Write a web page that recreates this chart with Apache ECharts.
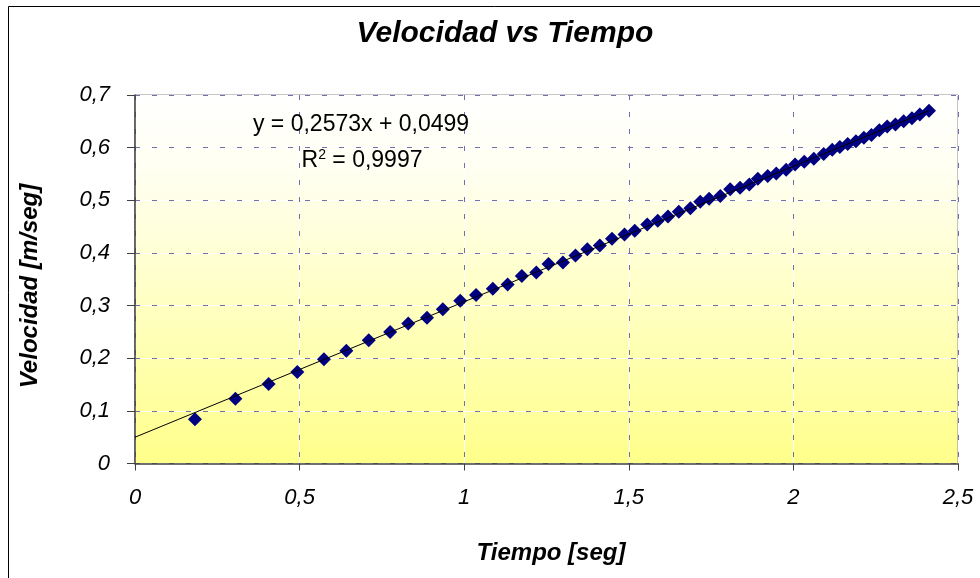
<!DOCTYPE html>
<html>
<head>
<meta charset="utf-8">
<script src="https://cdn.jsdelivr.net/npm/echarts@6/dist/echarts.min.js"></script>
<style>html,body{margin:0;padding:0;background:#fff;}#c{width:980px;height:578px;}</style>
</head>
<body>
<div id="c"></div>
<script>
const timeData = [0.182,0.305,0.406,0.493,0.574,0.642,0.710,0.775,0.830,0.887,0.935,0.988,1.036,1.087,1.132,1.175,1.219,1.256,1.300,1.338,1.374,1.412,1.449,1.487,1.518,1.556,1.588,1.619,1.652,1.687,1.717,1.744,1.778,1.808,1.838,1.866,1.892,1.922,1.948,1.978,2.005,2.033,2.062,2.092,2.118,2.141,2.165,2.190,2.214,2.237,2.261,2.285,2.310,2.335,2.360,2.384,2.412];
const velData  = [0.084,0.123,0.151,0.174,0.198,0.214,0.234,0.250,0.266,0.277,0.293,0.309,0.320,0.332,0.340,0.356,0.363,0.379,0.382,0.395,0.407,0.414,0.427,0.435,0.442,0.454,0.461,0.469,0.478,0.485,0.497,0.503,0.508,0.521,0.524,0.530,0.541,0.546,0.551,0.558,0.568,0.573,0.579,0.588,0.596,0.601,0.607,0.612,0.619,0.624,0.633,0.640,0.644,0.650,0.656,0.663,0.670];
const trendCoef = [0.2573, 0.0499];
const xTicks = [0, 0.5, 1, 1.5, 2, 2.5];
const yTicks = [0, 0.1, 0.2, 0.3, 0.4, 0.5, 0.6, 0.7];
const titleText = 'Velocidad vs Tiempo';
const xTitle = 'Tiempo [seg]';
const yTitle = 'Velocidad [m/seg]';

const FONT = "'Liberation Sans', Arial, sans-serif";
const fmt = v => String(v).replace('.', ',');
const points = timeData.map((t, i) => [t, velData[i]]);
const xEnd = timeData[timeData.length - 1];
const trend = [[0, trendCoef[1]], [xEnd, trendCoef[0] * xEnd + trendCoef[1]]];

const chart = echarts.init(document.getElementById('c'), null, {renderer: 'canvas'});
chart.setOption({
  animation: false,
  backgroundColor: '#ffffff',
  grid: {
    left: 135, right: 22, top: 95, bottom: 114.5,
    show: true,
    borderColor: '#8c8c8c', borderWidth: 1,
    backgroundColor: new echarts.graphic.LinearGradient(0, 0, 0, 1, [
      {offset: 0, color: '#ffffff'},
      {offset: 0.2, color: '#fffff2'},
      {offset: 1, color: '#ffff8a'}
    ])
  },
  xAxis: [{
    type: 'value', min: xTicks[0], max: xTicks[xTicks.length - 1], interval: 0.5, z: 3,
    axisLine: {show: true, onZero: false, lineStyle: {color: '#404040', width: 1.5}},
    axisTick: {show: true, length: 7, lineStyle: {color: '#404040'}},
    axisLabel: {margin: 23, color: '#000', fontFamily: FONT, fontSize: 22, fontStyle: 'italic', formatter: fmt},
    splitLine: {show: true, lineStyle: {color: '#6f6fb0', type: [5, 12], width: 1}}
  }, {
    type: 'value', min: xTicks[0], max: xTicks[xTicks.length - 1], interval: 0.5, position: 'top', z: 1,
    axisLine: {show: false}, axisTick: {show: false}, axisLabel: {show: false},
    splitLine: {show: true, lineStyle: {color: '#ffffff', width: 1}}
  }],
  yAxis: [{
    type: 'value', min: yTicks[0], max: yTicks[yTicks.length - 1], interval: 0.1, z: 3,
    axisLine: {show: true, onZero: false, lineStyle: {color: '#404040', width: 1.5}},
    axisTick: {show: true, length: 8, lineStyle: {color: '#404040'}},
    axisLabel: {margin: 25, color: '#000', fontFamily: FONT, fontSize: 22, fontStyle: 'italic', formatter: fmt},
    splitLine: {show: true, lineStyle: {color: '#6f6fb0', type: [5, 12], width: 1}}
  }, {
    type: 'value', min: yTicks[0], max: yTicks[yTicks.length - 1], interval: 0.1, position: 'right', z: 1,
    axisLine: {show: false}, axisTick: {show: false}, axisLabel: {show: false},
    splitLine: {show: true, lineStyle: {color: '#ffffff', width: 1}}
  }],
  series: [{
    type: 'scatter', data: points, symbol: 'diamond', symbolSize: 14, z: 4,
    itemStyle: {color: '#000080', opacity: 1}
  }, {
    type: 'line', data: trend, symbol: 'none', z: 5,
    lineStyle: {color: '#000000', width: 1}
  }],
  graphic: [
    {type: 'rect', z: 100, silent: true, shape: {x: 8.5, y: 6.5, width: 1000, height: 700},
     style: {fill: null, stroke: '#000', lineWidth: 1}},
    {type: 'text', z: 100, x: 505, y: 34,
     style: {text: titleText, font: "italic bold 30px " + FONT, fill: '#000', align: 'center', verticalAlign: 'middle'}},
    {type: 'text', z: 100, x: 551, y: 553,
     style: {text: xTitle, font: "italic bold 24px " + FONT, fill: '#000', align: 'center', verticalAlign: 'middle'}},
    {type: 'text', z: 100, x: 30, y: 286, rotation: Math.PI / 2,
     style: {text: yTitle, font: "italic bold 24px " + FONT, fill: '#000', align: 'center', verticalAlign: 'middle'}},
    {type: 'text', z: 100, x: 361, y: 125,
     style: {text: 'y = ' + fmt(trendCoef[0]) + 'x + ' + fmt(trendCoef[1]), font: "23px " + FONT, fill: '#000', align: 'center', verticalAlign: 'middle'}},
    {type: 'text', z: 100, x: 362, y: 160,
     style: {text: '{b|R}{s|2}{b| = 0,9997}', align: 'center', verticalAlign: 'middle', fill: '#000',
       rich: {b: {fontFamily: FONT, fontSize: 23, fill: '#000', verticalAlign: 'bottom'},
              s: {fontFamily: FONT, fontSize: 14, fill: '#000', verticalAlign: 'top', padding: [0, 0, 10, 0]}}}}
  ]
});
</script>
</body>
</html>
